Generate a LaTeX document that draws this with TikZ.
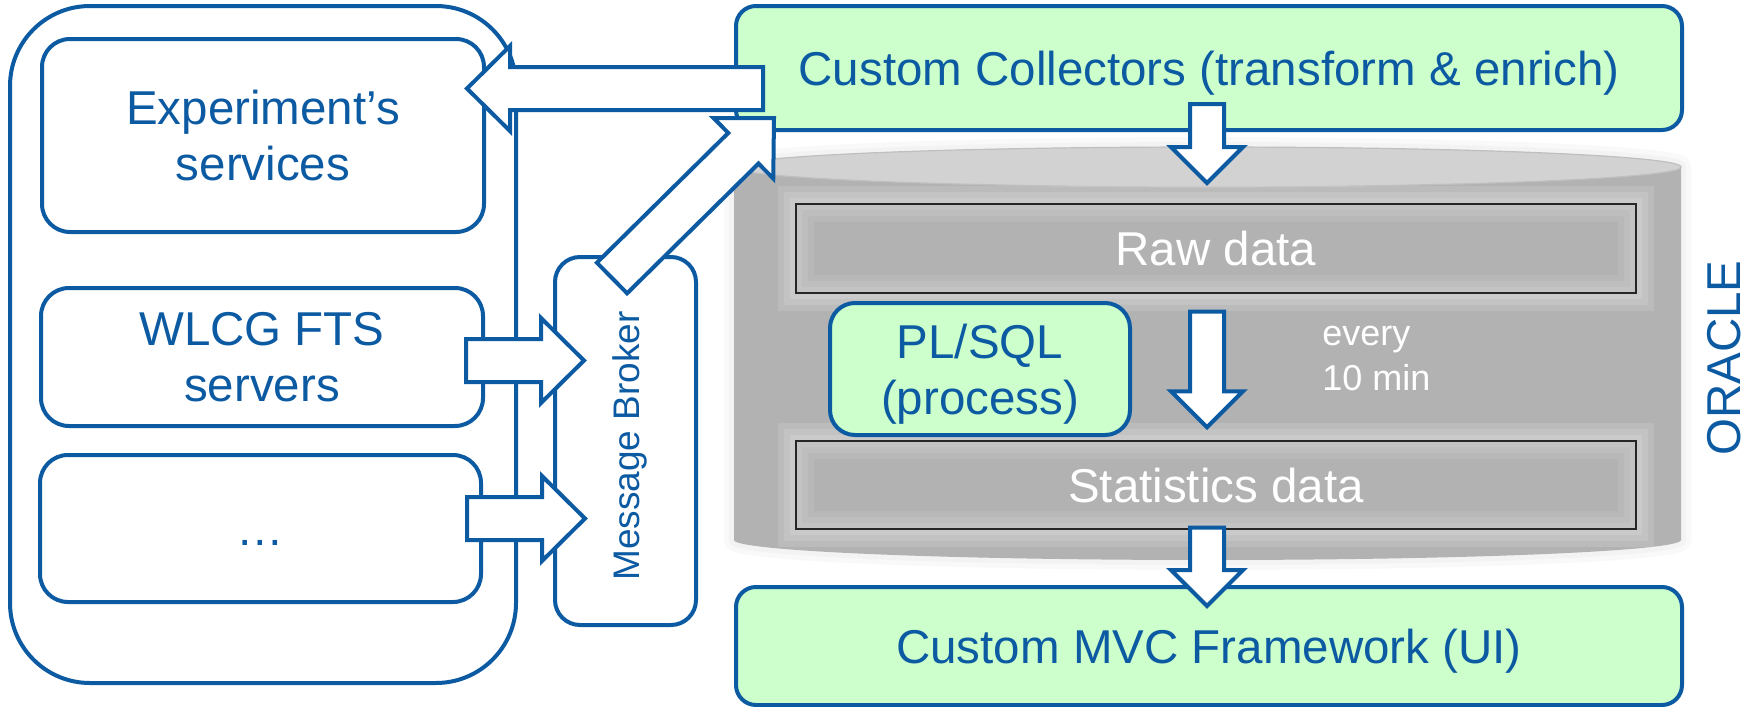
\documentclass[tikz,border=0pt]{standalone}
\usepackage{fontspec}
\setmainfont{Liberation Sans}
\usetikzlibrary{calc}

\definecolor{ublue}{HTML}{0B5AA2}
\definecolor{lgreen}{HTML}{CCFFCC}
\definecolor{cgray}{HTML}{B2B2B2}
\definecolor{ctop}{HTML}{D2D2D2}

\newcommand\fbig{\fontsize{23.75pt}{28pt}\selectfont}
\newcommand\fbroker{\fontsize{18.5pt}{22pt}\selectfont}
\newcommand\fsmall{\fontsize{18pt}{21pt}\selectfont}

% block arrow: #1 tail, #2 tip, #3 shaft half-width, #4 head half-width, #5 head length
\newcommand\blockarrow[5]{%
  \draw[barrow] let \p1=(#1), \p2=(#2),
      \n1={atan2(\y2-\y1,\x2-\x1)},
      \n2={veclen(\x2-\x1,\y2-\y1)} in
    ($(\p1)+(\n1+90:#3)$) -- ++(\n1:{\n2*1pt-#5}) -- ++(\n1+90:{#4-#3})
    -- (\p2)
    -- ($(\p1)+(\n1:{\n2*1pt-#5})+(\n1-90:#4)$) -- ++(\n1+90:{#4-#3})
    -- ($(\p1)+(\n1-90:#3)$) -- cycle;}

\begin{document}
\begin{tikzpicture}[x=0.5pt,y=-0.5pt,
  box/.style={draw=ublue, line width=2pt, text=ublue, inner sep=0pt,
    align=center, font=\fbig},
  greenbox/.style={box, fill=lgreen},
  capline/.style={text height=17pt, text depth=0pt},
  bluetext/.style={text=ublue, font=\fbig, inner sep=0pt},
  bar/.style={draw=black!85, line width=0.7pt, fill=cgray, text=white,
    font=\fbig, capline, inner sep=0pt,
    preaction={draw=white, draw opacity=0.12, line width=18pt},
    preaction={draw=white, draw opacity=0.12, line width=12pt},
    preaction={draw=white, draw opacity=0.12, line width=6pt},
    path picture={
      \foreach \w in {18pt,12pt,6pt}
        \draw[white, opacity=0.09, line width=\w]
          (path picture bounding box.south west) rectangle (path picture bounding box.north east);
    }},
  barrow/.style={draw=ublue, line width=2pt, fill=white, line join=miter},
]
\useasboundingbox (0,0) rectangle (1753,707);

% sources on the left
\node[box, rounded corners=40pt, minimum width=253pt, minimum height=338.5pt] (outer) at (263,344.5) {};
\node[box, rounded corners=14pt, minimum width=221pt, minimum height=96.5pt] (exp) at (263,135.5) {Experiment’s\\services};
\node[box, rounded corners=14pt, minimum width=221pt, minimum height=69pt] (wlcg) at (262,357) {WLCG FTS\\servers};
\node[box, capline, rounded corners=14pt, minimum width=220.5pt, minimum height=73.5pt] (dots) at (260.5,528.5) {…};

% message broker
\node[box, rounded corners=12.5pt, minimum width=70.5pt, minimum height=184pt] (broker) at (625.5,441) {};
\node[text=ublue, font=\fbroker, rotate=90, text height=13.25pt, text depth=0pt, inner sep=0pt] (brokertext) at (626.5,446) {Message Broker};

% database cylinder with a faint halo
\coordinate (db) at (1207.5,167);
\path[fill=cgray,
  preaction={draw=black, draw opacity=0.025, line width=10pt},
  preaction={draw=black, draw opacity=0.025, line width=5pt}]
  (734,167) -- (734,540)
  arc[start angle=180, end angle=360, x radius=236.75pt, y radius=10pt]
  -- (1681,167)
  arc[start angle=0, end angle=180, x radius=236.75pt, y radius=10pt] -- cycle;
\draw[fill=ctop, draw=black!25, line width=0.6pt] (db) ellipse [x radius=236.75pt, y radius=10pt];

\node[bar, minimum width=420pt, minimum height=44.5pt] (raw) at (1216,248.5) {Raw data};
\node[bar, minimum width=420pt, minimum height=44pt] (stats) at (1216,485) {Statistics data};

% processing step
\node[greenbox, rounded corners=12.5pt, minimum width=150pt, minimum height=66pt] (plsql) at (980,369) {};
\node[bluetext, anchor=base] (plsqlA) at (980,358) {PL/SQL};
\node[bluetext, anchor=base] (plsqlB) at (980,414) {(process)};
\node[text=white, font=\fsmall, anchor=base west, inner sep=0pt] (every) at (1322,345) {every};
\node[text=white, font=\fsmall, anchor=base west, inner sep=0pt] (tenmin) at (1322,390) {10 min};
\node[bluetext, rotate=90, capline] (oracle) at (1723,358) {ORACLE};

% collectors and user interface
\node[greenbox, capline, rounded corners=10pt, minimum width=473pt, minimum height=62pt] (coll) at (1209,68) {Custom Collectors (transform \& enrich)};
\node[greenbox, capline, rounded corners=10pt, minimum width=473pt, minimum height=59pt] (mvc) at (1209,646) {Custom MVC Framework (UI)};

% arrow end points
\coordinate (a1t) at ($(coll.west)+(29,20.5)$);
\coordinate (a1h) at ($(exp.east)+(-19,-47)$);
\coordinate (a2t) at ($(broker.north)+(-13.5,23)$);
\coordinate (a2h) at ($(coll.south west)+(40,-14)$);
\coordinate (a3t) at ($(wlcg.east)+(-19,3.5)$);
\coordinate (a3h) at ($(broker.west)+(31,-80.5)$);
\coordinate (a4t) at ($(dots.east)+(-16,-10)$);
\coordinate (a4h) at ($(broker.west)+(32,77.5)$);
\coordinate (d1t) at ($(coll.south)+(-2,-28)$);
\coordinate (d1h) at ($(db)+(-0.5,16)$);
\coordinate (d2t) at ($(raw.south)+(-9,18)$);
\coordinate (d2h) at ($(stats.north)+(-9,-13)$);
\coordinate (d3t) at ($(stats.south)+(-9,-2)$);
\coordinate (d3h) at ($(mvc.north)+(-2,21)$);

% block arrows
\blockarrow{a1t}{a1h}{10.75pt}{21.25pt}{21.5pt}
\blockarrow{a2t}{a2h}{10.75pt}{21.25pt}{21.5pt}
\blockarrow{a3t}{a3h}{10.75pt}{21.25pt}{21.5pt}
\blockarrow{a4t}{a4h}{10.75pt}{21.25pt}{21.5pt}
\blockarrow{d1t}{d1h}{8.5pt}{18pt}{18pt}
\blockarrow{d2t}{d2h}{8.5pt}{18pt}{18pt}
\blockarrow{d3t}{d3h}{8.5pt}{18pt}{18pt}
\end{tikzpicture}
\end{document}
